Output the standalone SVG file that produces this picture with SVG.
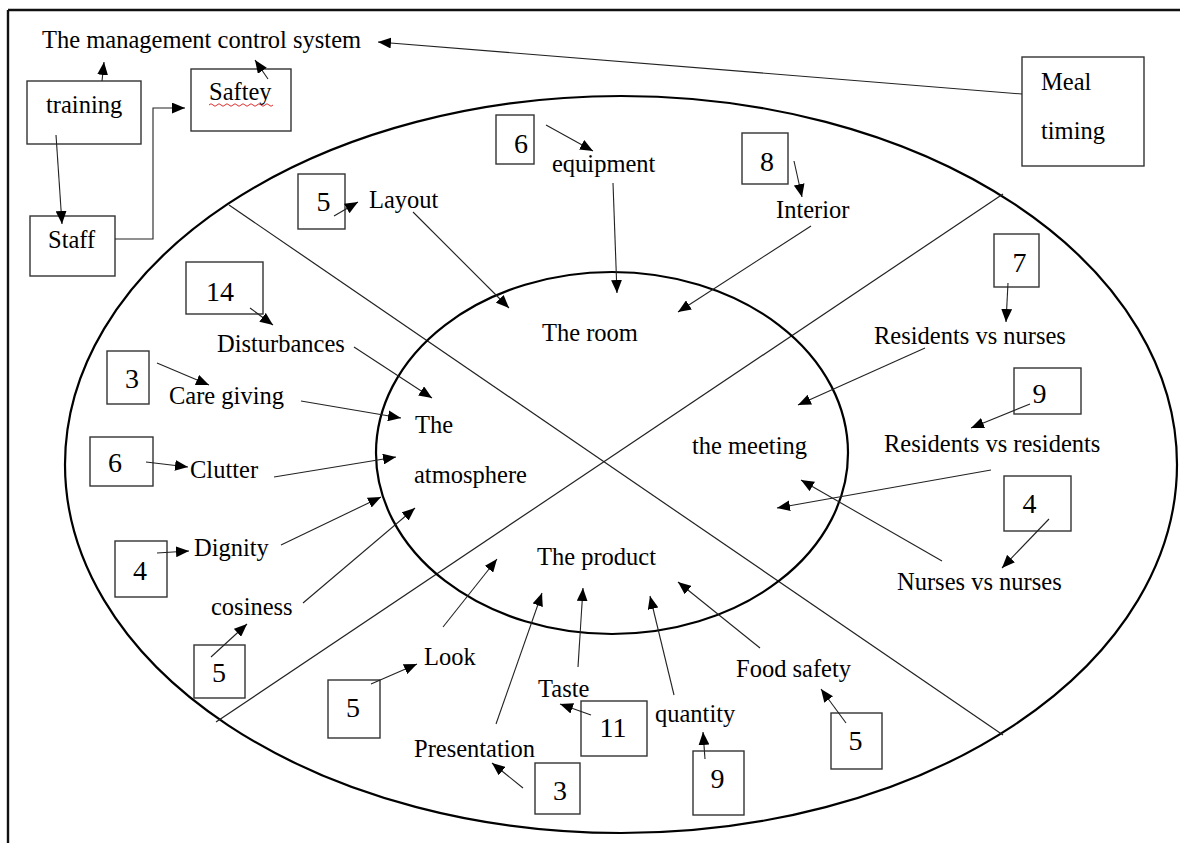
<svg xmlns="http://www.w3.org/2000/svg" width="1180" height="843" viewBox="0 0 1180 843">
  <style>
    text { font-family: "Liberation Serif", "Times New Roman", serif; fill: #000; }
    .lbl { font-size: 24.5px; }
    .num { font-size: 28px; text-anchor: middle; }
    .box { fill: #fff; stroke: #333; stroke-width: 1.4; }
    .conn { fill: none; stroke: #222; stroke-width: 1.1; }
    .arr { fill: none; stroke: #222; stroke-width: 1.1; marker-end: url(#ah); }
    .ring { fill: none; stroke: #000; stroke-width: 2.2; }
    .divider { fill: none; stroke: #222; stroke-width: 1.2; }
  </style>
  <defs>
    <marker id="ah" viewBox="0 0 12 10" refX="12" refY="5" markerWidth="13" markerHeight="11" markerUnits="userSpaceOnUse" orient="auto">
      <path d="M0,0 L12,5 L0,10 z" fill="#000"/>
    </marker>
  </defs>

  <rect width="1180" height="843" fill="#fff"/>

  <!-- page frame: top and left rules only -->
  <g id="frame" fill="none" stroke="#111" stroke-width="2.4">
    <line x1="8" y1="10" x2="1180" y2="10"/>
    <line x1="8" y1="10" x2="8" y2="843"/>
  </g>

  <!-- rings and quadrant dividers -->
  <g id="rings">
    <ellipse class="ring" cx="621" cy="464.5" rx="556" ry="368.5"/>
    <line class="divider" x1="229" y1="205" x2="1003" y2="735"/>
    <line class="divider" x1="1003" y1="194" x2="216" y2="722"/>
    <ellipse class="ring" cx="612" cy="453" rx="236" ry="181"/>
  </g>

  <!-- management nodes -->
  <g id="management">
    <text class="lbl" x="42" y="48">The management control system</text>
  </g>
  <g id="training">
    <rect class="box" x="27" y="81" width="114" height="63"/>
    <text class="lbl" x="46" y="113">training</text>
  </g>
  <g id="safety">
    <rect class="box" x="191" y="69" width="100" height="62"/>
    <text class="lbl" x="209" y="100">Saftey</text>
    <path d="M209,105 q2,-2.5 4,0 t4,0 t4,0 t4,0 t4,0 t4,0 t4,0 t4,0 t4,0 t4,0 t4,0 t4,0 t4,0 t4,0 t4,0 t4,0" fill="none" stroke="#e03030" stroke-width="1"/>
  </g>
  <g id="staff">
    <rect class="box" x="30" y="216" width="85" height="60"/>
    <text class="lbl" x="48" y="248">Staff</text>
  </g>
  <g id="meal-timing">
    <rect class="box" x="1022" y="57" width="122" height="109"/>
    <text class="lbl" x="1041" y="90">Meal</text>
    <text class="lbl" x="1041" y="139">timing</text>
  </g>

  <!-- the room quadrant -->
  <g id="the-room">
    <text class="lbl" x="542" y="341">The room</text>
  </g>
  <g id="layout">
    <rect class="box" x="298" y="174" width="47" height="55"/>
    <text class="num" x="323.5" y="211">5</text>
    <text class="lbl" x="369" y="208">Layout</text>
  </g>
  <g id="equipment">
    <rect class="box" x="496" y="115" width="38" height="49"/>
    <text class="num" x="521" y="153">6</text>
    <text class="lbl" x="552" y="172">equipment</text>
  </g>
  <g id="interior">
    <rect class="box" x="742" y="133" width="46" height="51"/>
    <text class="num" x="767" y="171">8</text>
    <text class="lbl" x="776" y="218">Interior</text>
  </g>

  <!-- the meeting quadrant -->
  <g id="the-meeting">
    <text class="lbl" x="692" y="454">the meeting</text>
  </g>
  <g id="residents-nurses">
    <rect class="box" x="994" y="234" width="45" height="53"/>
    <text class="num" x="1019.5" y="272">7</text>
    <text class="lbl" x="874" y="344">Residents vs nurses</text>
  </g>
  <g id="residents-residents">
    <rect class="box" x="1014" y="368" width="67" height="46"/>
    <text class="num" x="1039.5" y="403">9</text>
    <text class="lbl" x="884" y="452">Residents vs residents</text>
  </g>
  <g id="nurses-nurses">
    <rect class="box" x="1004" y="476" width="67" height="55"/>
    <text class="num" x="1029.5" y="513">4</text>
    <text class="lbl" x="897" y="590">Nurses vs nurses</text>
  </g>

  <!-- the atmosphere quadrant -->
  <g id="the-atmosphere">
    <text class="lbl" x="415" y="433">The</text>
    <text class="lbl" x="414" y="483">atmosphere</text>
  </g>
  <g id="disturbances">
    <rect class="box" x="186" y="262" width="77" height="52"/>
    <text class="num" x="220" y="301">14</text>
    <text class="lbl" x="217" y="352">Disturbances</text>
  </g>
  <g id="care-giving">
    <rect class="box" x="107" y="351" width="42" height="53"/>
    <text class="num" x="132" y="388">3</text>
    <text class="lbl" x="169" y="404">Care giving</text>
  </g>
  <g id="clutter">
    <rect class="box" x="90" y="437" width="63" height="49"/>
    <text class="num" x="115" y="472">6</text>
    <text class="lbl" x="190" y="478">Clutter</text>
  </g>
  <g id="dignity">
    <rect class="box" x="115" y="541" width="52" height="56"/>
    <text class="num" x="140" y="580">4</text>
    <text class="lbl" x="194" y="556">Dignity</text>
  </g>
  <g id="cosiness">
    <rect class="box" x="194" y="645" width="51" height="53"/>
    <text class="num" x="219" y="682">5</text>
    <text class="lbl" x="211" y="615">cosiness</text>
  </g>

  <!-- the product quadrant -->
  <g id="the-product">
    <text class="lbl" x="537" y="565">The product</text>
  </g>
  <g id="look">
    <rect class="box" x="328" y="680" width="52" height="58"/>
    <text class="num" x="353" y="717">5</text>
    <text class="lbl" x="424" y="665">Look</text>
  </g>
  <g id="presentation">
    <rect class="box" x="535" y="763" width="45" height="51"/>
    <text class="num" x="560" y="800">3</text>
    <text class="lbl" x="414" y="757">Presentation</text>
  </g>
  <g id="taste">
    <rect class="box" x="581" y="701" width="66" height="55"/>
    <text class="num" x="613" y="737">11</text>
    <text class="lbl" x="538" y="697">Taste</text>
  </g>
  <g id="quantity">
    <rect class="box" x="693" y="751" width="51" height="64"/>
    <text class="num" x="717.5" y="788">9</text>
    <text class="lbl" x="655" y="722">quantity</text>
  </g>
  <g id="food-safety">
    <rect class="box" x="831" y="713" width="51" height="56"/>
    <text class="num" x="855.5" y="750">5</text>
    <text class="lbl" x="736" y="677">Food safety</text>
  </g>

  <!-- connectors -->
  <g id="connectors">
    <line class="arr" x1="102" y1="81" x2="104" y2="62"/>
    <line class="arr" x1="268" y1="79" x2="255" y2="60"/>
    <line class="arr" x1="56" y1="135" x2="62" y2="224"/>
    <polyline class="arr" points="115,239 153,239 153,108 185,108"/>
    <line class="arr" x1="1022" y1="94" x2="378" y2="42"/>

    <line class="arr" x1="334" y1="216" x2="358" y2="202"/>
    <line class="arr" x1="413" y1="212" x2="509" y2="308"/>
    <line class="arr" x1="546" y1="125" x2="593" y2="151"/>
    <line class="arr" x1="613" y1="183" x2="617" y2="293"/>
    <line class="arr" x1="794" y1="161" x2="802" y2="197"/>
    <line class="arr" x1="811" y1="226" x2="678" y2="312"/>

    <line class="arr" x1="1008" y1="283" x2="1006" y2="322"/>
    <line class="arr" x1="925" y1="348" x2="798" y2="405"/>
    <line class="arr" x1="1030" y1="404" x2="971" y2="428"/>
    <line class="arr" x1="991" y1="470" x2="777" y2="508"/>
    <line class="arr" x1="1049" y1="519" x2="1002" y2="568"/>
    <line class="arr" x1="942" y1="561" x2="801" y2="480"/>

    <line class="arr" x1="250" y1="308" x2="273" y2="325"/>
    <line class="arr" x1="354" y1="347" x2="432" y2="398"/>
    <line class="arr" x1="157" y1="363" x2="209" y2="385"/>
    <line class="arr" x1="301" y1="401" x2="401" y2="418"/>
    <line class="arr" x1="146" y1="462" x2="188" y2="467"/>
    <line class="arr" x1="274" y1="477" x2="396" y2="457"/>
    <line class="arr" x1="157" y1="553" x2="189" y2="551"/>
    <line class="arr" x1="281" y1="545" x2="381" y2="497"/>
    <line class="arr" x1="211" y1="657" x2="247" y2="624"/>
    <line class="arr" x1="303" y1="603" x2="415" y2="508"/>

    <line class="arr" x1="371" y1="684" x2="417" y2="664"/>
    <line class="arr" x1="443" y1="627" x2="497" y2="559"/>
    <line class="arr" x1="496" y1="724" x2="542" y2="593"/>
    <line class="arr" x1="523" y1="788" x2="492" y2="763"/>
    <line class="arr" x1="578" y1="667" x2="583" y2="588"/>
    <line class="arr" x1="591" y1="715" x2="560" y2="704"/>
    <line class="arr" x1="674" y1="695" x2="650" y2="596"/>
    <line class="arr" x1="705" y1="759" x2="703" y2="732"/>
    <line class="arr" x1="760" y1="648" x2="678" y2="582"/>
    <line class="arr" x1="846" y1="723" x2="821" y2="689"/>
  </g>
</svg>
